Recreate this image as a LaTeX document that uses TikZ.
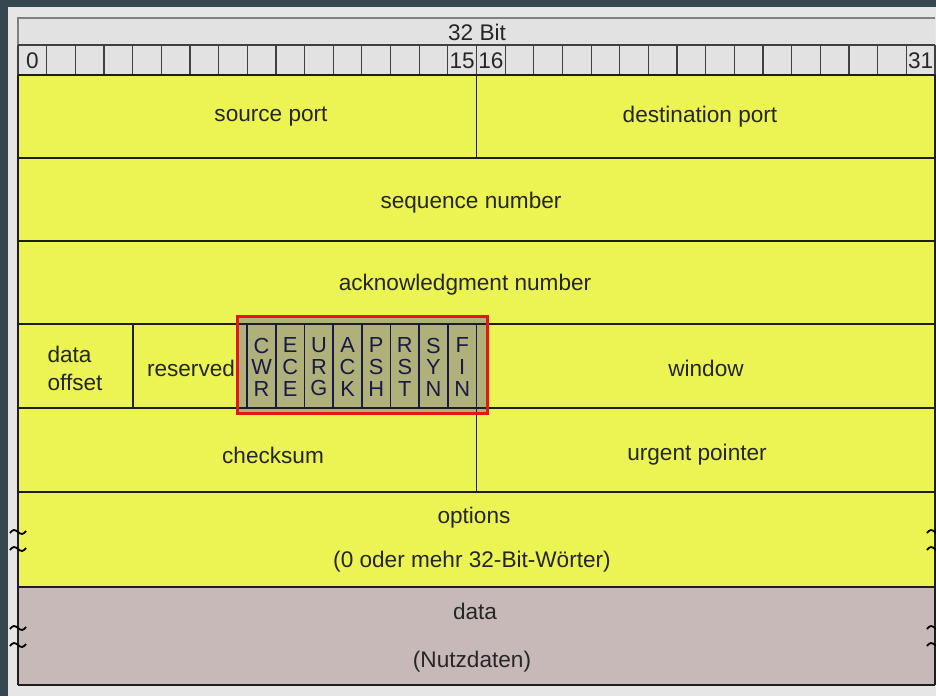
\documentclass[tikz,border=0pt]{standalone}
\usepackage{fontspec}
\setmainfont{Liberation Sans}
\definecolor{framecol}{RGB}{55,71,79}
\definecolor{panelcol}{RGB}{230,230,230}
\definecolor{headcol}{RGB}{226,226,226}
\definecolor{fieldcol}{RGB}{236,244,84}
\definecolor{datacol}{RGB}{200,185,185}
\definecolor{flagcol}{RGB}{175,176,122}
\definecolor{flagline}{RGB}{25,25,70}
\definecolor{linecol}{RGB}{30,30,30}
\definecolor{markcol}{RGB}{228,22,22}

\begin{document}
\begin{tikzpicture}[x=0.5pt,y=-0.5pt,
    lbl/.style={font=\fontsize{11.3}{14}\selectfont, inner sep=0pt, text=black!85},
    flag/.style={font=\fontsize{10.9}{10.8}\selectfont, align=center, inner sep=0pt},
    rowline/.style={draw=linecol, line width=0.9pt},
    bitline/.style={draw=linecol!85, line width=0.6pt},
    brk/.style={line width=0.9pt, draw=black}]

    \useasboundingbox (0,0) rectangle (936,696);
    \fill[framecol] (0,0) rectangle (936,696);
    \fill[panelcol] (8,7) rectangle (936,696);

    % header with bit numbers
    \fill[headcol] (18,18) rectangle (935,75);
    \draw[gray, line width=1pt] (18,45) |- (935,18);
    \draw[bitline] (18,45) -- (935,45);
    \foreach \i in {0,...,32}
        \draw[bitline] ({18+\i*28.656},45) -- ++(0,30);
    \node[lbl] (width) at (477,32) {32 Bit};
    \node[lbl] (bit0) at (32.3,61) {0};
    \node[lbl] (bit15) at (462.2,61) {15};
    \node[lbl] (bit16) at (490.9,61) {16};
    \node[lbl] (bit31) at (920.7,61) {31};

    % fields
    \fill[fieldcol] (18,75) rectangle (935,587);
    \fill[datacol] (18,587) rectangle (935,685);
    \fill[flagcol] (237,316) rectangle (488,414);

    \foreach \y in {75,158,241,324,408,492,587,685}
        \draw[rowline] (18,\y) -- (935,\y);
    \draw[rowline] (18,75) -- (18,685);
    \draw[rowline] (935,75) -- (935,685);
    \draw[rowline] (476.5,75) -- (476.5,158);
    \draw[rowline] (476.5,408) -- (476.5,492);
    \draw[rowline] (132.6,324) -- (132.6,408);
    \foreach \i in {8,...,16}
        \draw[flagline, line width=0.9pt] ({18+\i*28.656},324) -- ++(0,84);

    % flags
    \foreach \f [count=\i from 0] in {{C\\W\\R},{E\\C\\E},{U\\R\\G},{A\\C\\K},{P\\S\\H},{R\\S\\T},{S\\Y\\N},{F\\I\\N}}
        \node[flag, text=flagline] (flag\i) at ({18+(8.5+\i)*28.656},367) {\f};
    \draw[markcol, line width=1.5pt] (237.5,316.5) rectangle (487.5,413);

    \node[lbl] (srcport) at (271,117) {source port};
    \node[lbl] (dstport) at (700,117) {destination port};
    \node[lbl] (seqnum) at (471,203) {sequence number};
    \node[lbl] (acknum) at (465,285) {acknowledgment number};
    \node[lbl, align=left] (doffset) at (75,368) {data\\offset};
    \node[lbl] (reserved) at (191,368) {reserved};
    \node[lbl] (window) at (706,368) {window};
    \node[lbl] (checksum) at (273,455) {checksum};
    \node[lbl] (urgent) at (697,455) {urgent pointer};
    \node[lbl] (options) at (474,518) {options};
    \node[lbl] (optnote) at (472,562) {(0 oder mehr 32-Bit-Wörter)};
    \node[lbl] (data) at (475,611) {data};
    \node[lbl] (datanote) at (472,662) {(Nutzdaten)};

    % break marks on both sides
    \foreach \x in {18,935}
        \foreach \y in {532,549,628,645}
            \draw[brk] (\x-8,\y+1) sin (\x-4,\y-2) cos (\x,\y) sin (\x+4,\y+2) cos (\x+8,\y-1);

\end{tikzpicture}
\end{document}
